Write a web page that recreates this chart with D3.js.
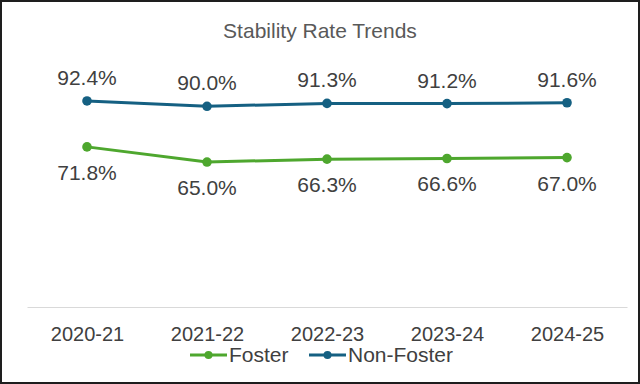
<!DOCTYPE html>
<html>
<head>
<meta charset="utf-8">
<script src="https://cdn.jsdelivr.net/npm/d3@7"></script>
<style>
  body { margin: 0; background: #fff; }
  svg text { font-family: "Liberation Sans", Arial, sans-serif; }
</style>
</head>
<body>
<div id="chart"></div>
<script>
var years = ["2020-21", "2021-22", "2022-23", "2023-24", "2024-25"];
var fosterRates = [71.8, 65.0, 66.3, 66.6, 67.0];
var nonFosterRates = [92.4, 90.0, 91.3, 91.2, 91.6];
var seriesNames = ["Foster", "Non-Foster"];

var W = 640, H = 384;
var margin = {top: 84, right: 13, bottom: 77, left: 27},
    width = W - margin.left - margin.right,
    height = H - margin.top - margin.bottom;

var svg = d3.select("#chart")
  .append("svg")
    .attr("width", W)
    .attr("height", H);

// outer border
svg.append("rect")
  .attr("x", 1).attr("y", 1)
  .attr("width", W - 2).attr("height", H - 2)
  .attr("fill", "#fff")
  .attr("stroke", "#1e1e1e")
  .attr("stroke-width", 2);

svg.append("text")
  .attr("x", 320).attr("y", 38)
  .attr("text-anchor", "middle")
  .attr("font-size", 21)
  .attr("fill", "#595959")
  .text("Stability Rate Trends");

var g = svg.append("g")
  .attr("transform", "translate(" + margin.left + "," + margin.top + ")");

var x = d3.scalePoint()
  .domain(years)
  .range([0, width])
  .padding(0.5);

var y = d3.scaleLinear()
  .domain([0, 100])
  .range([height, 0]);

// x axis
var xAxis = g.append("g")
  .attr("transform", "translate(0," + height + ")")
  .call(d3.axisBottom(x).tickSize(0).tickPadding(0).tickSizeOuter(0));
xAxis.select(".domain").attr("stroke", "#d9d9d9").attr("stroke-width", 1);
xAxis.selectAll("text")
  .attr("dy", null)
  .attr("y", 34)
  .attr("font-size", 20)
  .attr("fill", "#404040")
  .style("font-family", "'Liberation Sans', Arial, sans-serif");

var series = [
  {name: "Foster", values: fosterRates, color: "#4EA72E", labelDy: 33},
  {name: "Non-Foster", values: nonFosterRates, color: "#156082", labelDy: -16}
];

var line = d3.line()
  .x(function(d, i) { return x(years[i]); })
  .y(function(d) { return y(d); });

series.forEach(function(s) {
  g.append("path")
    .datum(s.values)
    .attr("fill", "none")
    .attr("stroke", s.color)
    .attr("stroke-width", 3)
    .attr("stroke-linejoin", "round")
    .attr("d", line);

  g.selectAll(null)
    .data(s.values)
    .enter()
    .append("circle")
    .attr("cx", function(d, i) { return x(years[i]); })
    .attr("cy", function(d) { return y(d); })
    .attr("r", 4.8)
    .attr("fill", s.color);

  g.selectAll(null)
    .data(s.values)
    .enter()
    .append("text")
    .attr("x", function(d, i) { return x(years[i]); })
    .attr("y", function(d) { return y(d) + s.labelDy; })
    .attr("text-anchor", "middle")
    .attr("font-size", 21)
    .attr("fill", "#404040")
    .text(function(d) { return d.toFixed(1) + "%"; });
});

// legend
var legendItems = [
  {x: 190, textX: 229},
  {x: 309, textX: 348}
];
series.forEach(function(s, i) {
  var lg = svg.append("g");
  var lx = legendItems[i].x;
  lg.append("line")
    .attr("x1", lx).attr("x2", lx + 37)
    .attr("y1", 355).attr("y2", 355)
    .attr("stroke", s.color)
    .attr("stroke-width", 3);
  lg.append("circle")
    .attr("cx", lx + 18.5).attr("cy", 355)
    .attr("r", 4)
    .attr("fill", s.color);
  lg.append("text")
    .attr("x", legendItems[i].textX)
    .attr("y", 362)
    .attr("font-size", 21)
    .attr("fill", "#404040")
    .text(seriesNames[i]);
});
</script>
</body>
</html>
